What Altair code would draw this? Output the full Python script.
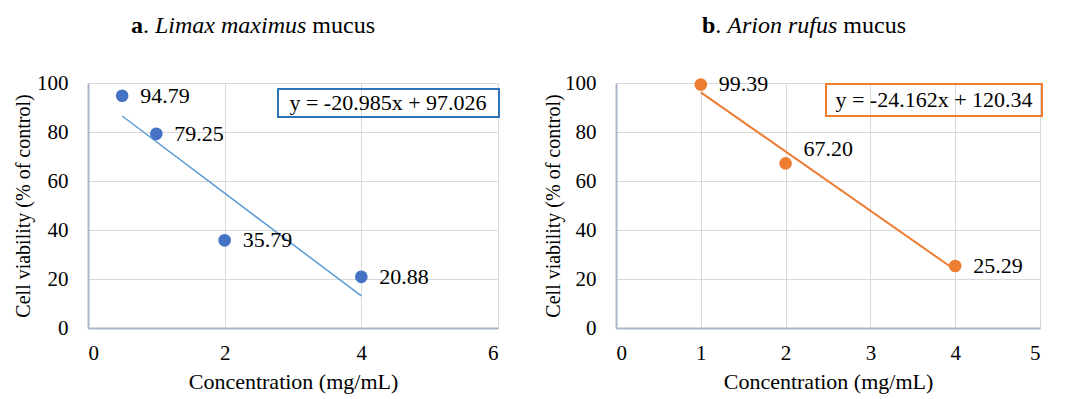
import altair as alt
import pandas as pd

# ---- data ----
conc_a = [0.5, 1, 2, 4]
via_a = [94.79, 79.25, 35.79, 20.88]
lab_a = ["94.79", "79.25", "35.79", "20.88"]
eq_a = "y = -20.985x + 97.026"

conc_b = [1, 2, 4]
via_b = [99.39, 67.20, 25.29]
lab_b = ["99.39", "67.20", "25.29"]
eq_b = "y = -24.162x + 120.34"

xticks_a = [0, 2, 4, 6]
xticks_b = [0, 1, 2, 3, 4, 5]
yticks = [0, 20, 40, 60, 80, 100]

FONT = "Liberation Serif"
AXIS_COL = "#A9B5CD"
GRID_COL = "#D9D9D9"

AX = dict(labelFont=FONT, titleFont=FONT, labelColor="black", titleColor="black",
          titleFontWeight="normal", domainColor=AXIS_COL, domainWidth=2,
          gridColor=GRID_COL, gridWidth=1, ticks=False, grid=True, format="d")


def title_layer(parts):
    layers = []
    for text, xpos, weight, style in parts:
        layers.append(
            alt.Chart(pd.DataFrame({"t": [text]})).mark_text(
                align="left", baseline="middle", font=FONT, fontSize=24,
                fontWeight=weight, fontStyle=style
            ).encode(x=alt.value(xpos), y=alt.value(-57), text="t:N")
        )
    return layers


def panel(xs, ys, labs, eq, xmax, xticks, width, pt_color, line_color,
          line_w, box, eq_center, title_parts, ytitle, ytp, raised=None):
    df = pd.DataFrame({"x": xs, "y": ys, "lab": labs})
    base = alt.Chart(df)
    xenc = alt.X("x:Q", scale=alt.Scale(domain=[0, xmax], nice=False, zero=True),
                 axis=alt.Axis(values=xticks, title="Concentration (mg/mL)",
                               labelFontSize=21, titleFontSize=22, labelPadding=14,
                               titlePadding=8, **AX))
    yenc = alt.Y("y:Q", scale=alt.Scale(domain=[0, 100], nice=False),
                 axis=alt.Axis(values=yticks, title=ytitle, labelFontSize=21,
                               titleFontSize=20, labelPadding=20, titlePadding=ytp, **AX))
    trend = base.transform_regression("x", "y").mark_line(
        color=line_color, strokeWidth=line_w).encode(x="x:Q", y="y:Q")
    pts = base.mark_circle(size=160, opacity=1, color=pt_color).encode(x=xenc, y=yenc)
    if raised is None:
        labels = base.mark_text(align="left", baseline="middle", dx=18, font=FONT,
                                fontSize=22).encode(x="x:Q", y="y:Q", text="lab:N")
        lab_layers = [labels]
    else:
        normal = base.transform_filter(alt.datum.x != raised).mark_text(
            align="left", baseline="middle", dx=18, font=FONT, fontSize=22).encode(
            x="x:Q", y="y:Q", text="lab:N")
        up = base.transform_filter(alt.datum.x == raised).mark_text(
            align="left", baseline="middle", dx=18, dy=-14, font=FONT, fontSize=22).encode(
            x="x:Q", y="y:Q", text="lab:N")
        lab_layers = [normal, up]
    eqdf = pd.DataFrame({"t": [eq]})
    rect = alt.Chart(eqdf).mark_rect(fillOpacity=0, stroke=box[4], strokeWidth=2).encode(
        x=alt.value(box[0]), x2=alt.value(box[1]), y=alt.value(box[2]), y2=alt.value(box[3]))
    eqtext = alt.Chart(eqdf).mark_text(align="center", baseline="middle", font=FONT,
                                       fontSize=22).encode(
        x=alt.value(eq_center[0]), y=alt.value(eq_center[1]), text="t:N")
    layers = [trend, pts] + lab_layers + [rect, eqtext] + title_layer(title_parts)
    return alt.layer(*layers).properties(width=width, height=245)


F = 24
left = panel(conc_a, via_a, lab_a, eq_a, 6, xticks_a, 410, "#4472C4", "#5B9BD5", 1.5,
             (190, 411, 6, 34, "#2E75B6"), (300, 20),
             [("a", 43, "bold", "normal"), (".", 43 + 0.5 * F, "normal", "normal"),
              ("Limax maximus", 43 + 1.0 * F, "normal", "italic"),
              ("mucus", 43 + 7.555 * F, "normal", "normal")],
             "Cell viability (% of  control)", 3)
right = panel(conc_b, via_b, lab_b, eq_b, 5, xticks_b, 424, "#ED7D31", "#ED7D31", 2,
              (210, 426, 1, 33, "#ED7D31"), (318, 17),
              [("b", 86, "bold", "normal"), (".", 86 + 0.556 * F, "normal", "normal"),
               ("Arion rufus", 86 + 1.056 * F, "normal", "italic"),
               ("mucus", 86 + 5.89 * F, "normal", "normal")],
              "Cell viability (% of control)", 1, raised=2)

chart = alt.hconcat(left, right, spacing=42)

chart.save("out.html", embed_options={"renderer": "svg", "actions": False})
